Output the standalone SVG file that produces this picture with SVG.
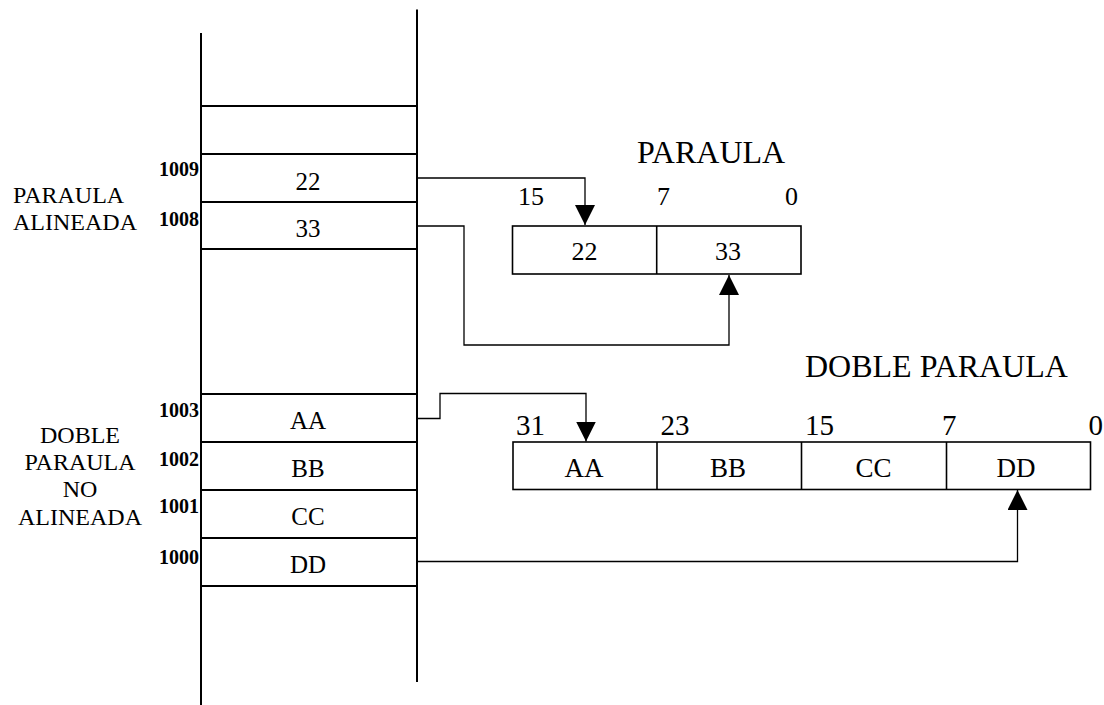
<svg xmlns="http://www.w3.org/2000/svg" width="1104" height="705" viewBox="0 0 1104 705">
<style>
  text { font-family: "Liberation Serif", "Times New Roman", serif; fill: #000; }
  .mem { stroke: #000; stroke-width: 2; fill: none; }
  .box { stroke: #000; stroke-width: 1.6; fill: #fff; }
  .conn { stroke: #000; stroke-width: 1.3; fill: none; }
  .addr { font-size: 20px; font-weight: bold; text-anchor: end; }
  .val { font-size: 25px; text-anchor: middle; }
  .lbl { font-size: 24px; }
  .ctr { text-anchor: middle; }
  .bit { font-size: 26px; }
  .bit2 { font-size: 29px; }
  .bval { font-size: 26px; text-anchor: middle; }
  .bval2 { font-size: 27px; text-anchor: middle; }
  .title { font-size: 32px; }
</style>
<defs>
  <marker id="arr" markerUnits="userSpaceOnUse" markerWidth="20" markerHeight="20" refX="20" refY="10" orient="auto">
    <path d="M0,0 L20,10 L0,20 Z" fill="#000"/>
  </marker>
</defs>
<rect width="1104" height="705" fill="#fff"/>

<g id="memory">
  <line class="mem" x1="201" y1="33" x2="201" y2="705"/>
  <line class="mem" x1="417" y1="9.5" x2="417" y2="682"/>
  <line class="mem" x1="201" y1="106" x2="417" y2="106"/>
  <line class="mem" x1="201" y1="154" x2="417" y2="154"/>
  <line class="mem" x1="201" y1="202" x2="417" y2="202"/>
  <line class="mem" x1="201" y1="249" x2="417" y2="249"/>
  <line class="mem" x1="201" y1="394" x2="417" y2="394"/>
  <line class="mem" x1="201" y1="442" x2="417" y2="442"/>
  <line class="mem" x1="201" y1="490" x2="417" y2="490"/>
  <line class="mem" x1="201" y1="538" x2="417" y2="538"/>
  <line class="mem" x1="201" y1="586" x2="417" y2="586"/>
</g>

<g id="cell-1009">
  <text class="addr" x="199" y="176">1009</text>
  <text class="val" x="308" y="190">22</text>
</g>
<g id="cell-1008">
  <text class="addr" x="199" y="226">1008</text>
  <text class="val" x="308" y="237">33</text>
</g>
<g id="cell-1003">
  <text class="addr" x="199" y="417">1003</text>
  <text class="val" x="308" y="429">AA</text>
</g>
<g id="cell-1002">
  <text class="addr" x="199" y="466">1002</text>
  <text class="val" x="308" y="477">BB</text>
</g>
<g id="cell-1001">
  <text class="addr" x="199" y="513">1001</text>
  <text class="val" x="308" y="525">CC</text>
</g>
<g id="cell-1000">
  <text class="addr" x="199" y="564">1000</text>
  <text class="val" x="308" y="573">DD</text>
</g>

<g id="label-alineada">
  <text class="lbl" x="13" y="203">PARAULA</text>
  <text class="lbl" x="13" y="230">ALINEADA</text>
</g>
<g id="label-no-alineada">
  <text class="lbl ctr" x="80" y="443">DOBLE</text>
  <text class="lbl ctr" x="80" y="470">PARAULA</text>
  <text class="lbl ctr" x="80" y="497">NO</text>
  <text class="lbl ctr" x="80" y="525">ALINEADA</text>
</g>

<g id="paraula">
  <text class="title" x="637" y="163">PARAULA</text>
  <text class="bit" x="518" y="205">15</text>
  <text class="bit" x="657" y="205">7</text>
  <text class="bit" x="785" y="205">0</text>
  <rect class="box" x="512.5" y="226" width="288.5" height="48"/>
  <line class="box" x1="656.7" y1="226" x2="656.7" y2="274"/>
  <text class="bval" x="584.5" y="260">22</text>
  <text class="bval" x="728" y="260">33</text>
</g>

<g id="doble-paraula">
  <text class="title" x="805" y="377">DOBLE PARAULA</text>
  <text class="bit2" x="516" y="435">31</text>
  <text class="bit2" x="660.5" y="435">23</text>
  <text class="bit2" x="805" y="435">15</text>
  <text class="bit2" x="942" y="435">7</text>
  <text class="bit2" x="1088.5" y="435">0</text>
  <rect class="box" x="513" y="442" width="577.5" height="47.5"/>
  <line class="box" x1="657" y1="442" x2="657" y2="489.5"/>
  <line class="box" x1="801.5" y1="442" x2="801.5" y2="489.5"/>
  <line class="box" x1="946.5" y1="442" x2="946.5" y2="489.5"/>
  <text class="bval2" x="584" y="477">AA</text>
  <text class="bval2" x="728" y="477">BB</text>
  <text class="bval2" x="873.5" y="477">CC</text>
  <text class="bval2" x="1016" y="477">DD</text>
</g>

<g id="connectors">
  <path class="conn" d="M417,178 H585 V225" marker-end="url(#arr)"/>
  <path class="conn" d="M417,226 H464 V345 H729 V275" marker-end="url(#arr)"/>
  <path class="conn" d="M417,418.5 H440 V393.5 H586 V441.5" marker-end="url(#arr)"/>
  <path class="conn" d="M417,561.5 H1017.5 V490" marker-end="url(#arr)"/>
</g>
</svg>
